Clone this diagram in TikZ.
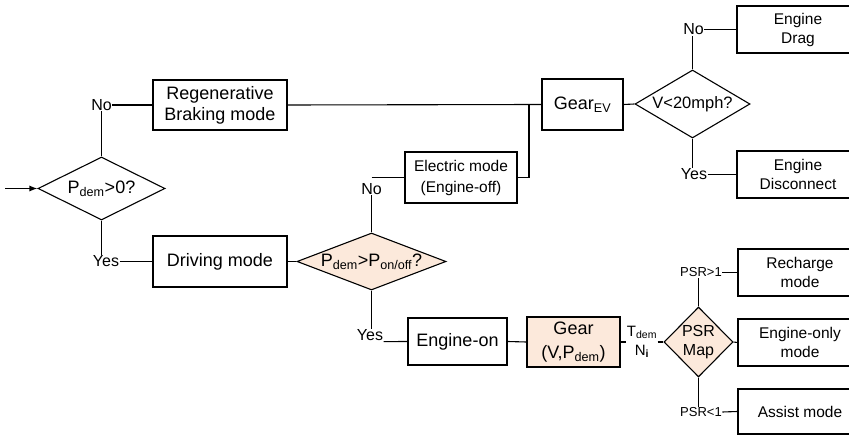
\documentclass[tikz,border=0pt]{standalone}
\usepackage{fontspec}
\setmainfont{Liberation Sans}
\usetikzlibrary{shapes.geometric,arrows.meta}
\definecolor{peach}{RGB}{252,233,219}
\newcommand{\sbx}[1]{\textsubscript{#1}}
\begin{document}
\begin{tikzpicture}[x=1pt,y=-1pt,
  line width=1.1pt,
  box/.style={draw,rectangle,inner sep=0pt,align=center,font=\fontsize{18}{21}\selectfont},
  sbox/.style={box,font=\fontsize{15.5}{19}\selectfont},
  dia/.style={draw,diamond,inner sep=0pt,align=center,font=\fontsize{18}{21}\selectfont},
  lbl/.style={inner sep=0pt,font=\fontsize{16}{18}\selectfont},
  slbl/.style={inner sep=0pt,font=\fontsize{13}{15}\selectfont},
  hl/.style={fill=peach}]
\useasboundingbox (0,0) rectangle (849,435);
% boxes
\node[box,minimum width=134,minimum height=50] (regen) at (220,105) {Regenerative\\Braking mode};
\node[box,minimum width=134,minimum height=51] (drive) at (220,261.5) {Driving mode};
\node[dia,aspect=2,minimum width=127,minimum height=63] (d1) at (101.5,188.5) {P\sbx{dem}>0?};
\node[dia,hl,aspect=2.6,minimum width=149,minimum height=57] (d2) at (371.5,261.5) {P\sbx{dem}>P\sbx{on/off}?};
\node[sbox,minimum width=112,minimum height=51,font=\fontsize{15.5}{21}\selectfont] (elec) at (461,177.5) {Electric mode\\(Engine-off)};
\node[box,minimum width=81,minimum height=51] (gearev) at (582.5,104.5) {Gear\sbx{EV}};
\node[dia,aspect=1.7,minimum width=115,minimum height=68,font=\fontsize{16.5}{20}\selectfont] (d3) at (692.5,104) {V<20mph?};
\node[sbox,minimum width=122,minimum height=47] (drag) at (798,29.5) {Engine\\Drag};
\node[sbox,minimum width=122,minimum height=47] (disc) at (798,174.5) {Engine\\Disconnect};
\node[box,minimum width=99,minimum height=47] (engon) at (457.5,341.5) {Engine-on};
\node[box,hl,minimum width=93,minimum height=50,font=\fontsize{18}{24}\selectfont] (gear) at (573.5,342) {Gear\\(V,P\sbx{dem})};
\node[dia,hl,aspect=1,minimum width=69,minimum height=70,font=\fontsize{16}{18.5}\selectfont] (psr) at (698.5,342) {PSR\\Map};
\node[sbox,minimum width=124,minimum height=47] (rech) at (800,272.5) {Recharge\\mode};
\node[sbox,minimum width=124,minimum height=47] (engonly) at (800,342.5) {Engine-only\\mode};
\node[sbox,minimum width=124,minimum height=45] (assist) at (800,411.5) {Assist mode};
% labels
\node[lbl] (no1) at (101.5,105) {No};
\node[lbl] (yes1) at (106,261.5) {Yes};
\node[lbl] (no2) at (371.5,189) {No};
\node[lbl] (no3) at (693.5,29.5) {No};
\node[lbl] (yes3) at (694,174.5) {Yes};
\node[lbl] (yes2) at (370,335.5) {Yes};
\node[inner sep=0pt,align=center,font=\fontsize{15}{19}\selectfont] (td) at (642,342) {T\sbx{dem}\\N\sbx{\textbf{i}}};
\node[slbl] (ps1) at (701,272.5) {PSR>1};
\node[slbl] (ps2) at (701,412) {PSR<1};
\coordinate (in) at (5,188.5);
\coordinate (c2) at (371.5,177.5);
\coordinate (j1) at (529,104.5);
% connectors
\draw[-{Latex[length=8pt,width=6pt]}] (in) -- (d1.west);
\draw (d1.north) -- (no1.south);
\draw (no1.east) -- (regen.west);
\draw (d1.south) -- (d1.south |- yes1.north);
\draw (yes1.east) -- (drive.west);
\draw (drive.east) -- (d2.west);
\draw (d2.north) -- (no2.south);
\draw (c2) -- (elec.west);
\draw (elec.east) -| (j1);
\draw (regen.east) -- (gearev.west);
\draw (gearev.east) -- (d3.west);
\draw (d3.north) -- (d3.north |- no3.south);
\draw (no3.east) -- (drag.west);
\draw (d3.south) -- (d3.south |- yes3.north);
\draw (yes3.east) -- (disc.west);
\draw (d2.south) -- (d2.south |- yes2.north);
\draw (yes2.south east) -- (engon.west);
\draw (engon.east) -- (gear.west);
\draw (gear.east) -- (td.west);
\draw (td.east) -- (psr.west);
\draw (psr.north) -- (psr.north |- ps1.south);
\draw (ps1.east) -- (rech.west);
\draw (psr.east) -- (engonly.west);
\draw (psr.south) -- (psr.south |- ps2.north);
\draw (ps2.east) -- (assist.west);
\end{tikzpicture}
\end{document}
